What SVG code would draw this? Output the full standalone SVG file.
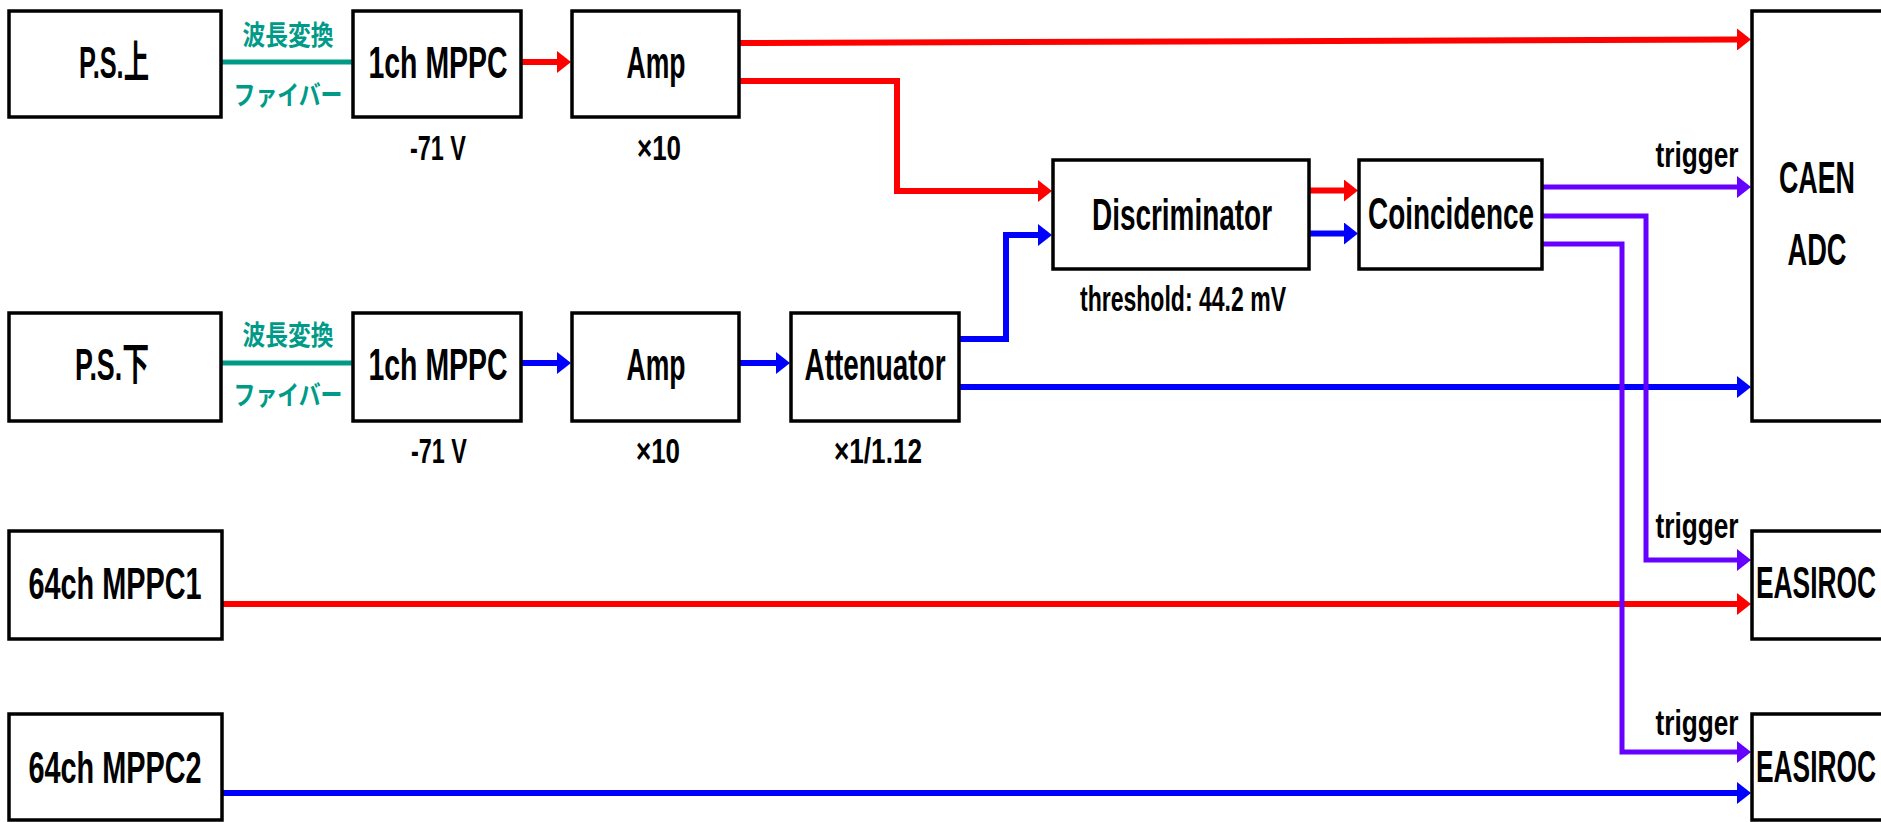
<svg xmlns="http://www.w3.org/2000/svg" width="1881" height="822" viewBox="0 0 1881 822">
<style>
.box{fill:#fff;stroke:#000;stroke-width:3.5}
.lbl{font-family:"Liberation Sans","Noto Sans CJK JP",sans-serif;font-size:44px;font-weight:bold;text-anchor:middle;fill:#000}
.sub{font-family:"Liberation Sans","Noto Sans CJK JP",sans-serif;font-size:35px;font-weight:bold;text-anchor:middle;fill:#000}
.jp{font-family:"Noto Sans CJK JP",sans-serif;font-size:27px;font-weight:bold;text-anchor:middle;fill:#009B88}
.r{fill:none;stroke:#FF0000;stroke-width:6;marker-end:url(#ar)}
.b{fill:none;stroke:#0000FF;stroke-width:6;marker-end:url(#ab)}
.p{fill:none;stroke:#6600FF;stroke-width:5;marker-end:url(#ap)}
.t{fill:none;stroke:#009B88;stroke-width:5}
</style>
<defs>
<marker id="ar" markerUnits="userSpaceOnUse" viewBox="0 0 14 22" refX="0" refY="11" markerWidth="14" markerHeight="22" orient="auto"><path d="M0,0 L14,11 L0,22 z" fill="#FF0000"/></marker>
<marker id="ab" markerUnits="userSpaceOnUse" viewBox="0 0 14 22" refX="0" refY="11" markerWidth="14" markerHeight="22" orient="auto"><path d="M0,0 L14,11 L0,22 z" fill="#0000FF"/></marker>
<marker id="ap" markerUnits="userSpaceOnUse" viewBox="0 0 14 22" refX="0" refY="11" markerWidth="14" markerHeight="22" orient="auto"><path d="M0,0 L14,11 L0,22 z" fill="#6600FF"/></marker>
</defs>
<rect width="1881" height="822" fill="#fff"/>

<g id="connectors">
<line class="t" x1="221" y1="62" x2="353" y2="62"/>
<line class="t" x1="221" y1="363" x2="353" y2="363"/>
<path class="r" d="M739,43 L1737,39.5"/>
<path class="r" d="M521,62 H557"/>
<path class="r" d="M739,81 H897 V191 H1038"/>
<path class="r" d="M1309,190.5 H1344"/>
<path class="r" d="M222,604 H1737"/>
<path class="b" d="M521,363 H557"/>
<path class="b" d="M739,363 H776"/>
<path class="b" d="M959,339 H1006 V235 H1038"/>
<path class="b" d="M1309,233.5 H1344"/>
<path class="b" d="M959,387 H1737"/>
<path class="b" d="M222,793 H1737"/>
<path class="p" d="M1542,187 H1737"/>
<path class="p" d="M1542,216 H1646 V560 H1737"/>
<path class="p" d="M1542,244 H1622 V752 H1737"/>
</g>

<g id="fiber_labels">
<text class="jp" x="288" y="45" textLength="91" lengthAdjust="spacingAndGlyphs">波長変換</text>
<text class="jp" x="288" y="105" textLength="109" lengthAdjust="spacingAndGlyphs">ファイバー</text>
<text class="jp" x="288" y="345" textLength="91" lengthAdjust="spacingAndGlyphs">波長変換</text>
<text class="jp" x="288" y="405" textLength="109" lengthAdjust="spacingAndGlyphs">ファイバー</text>
</g>

<g id="ps_up"><rect class="box" x="9" y="11" width="212" height="106"/><text class="lbl" x="114" y="78" textLength="70" lengthAdjust="spacingAndGlyphs">P.S.上</text></g>
<g id="mppc1ch_up"><rect class="box" x="353" y="11" width="168" height="106"/><text class="lbl" x="438" y="78" textLength="139" lengthAdjust="spacingAndGlyphs">1ch MPPC</text><text class="sub" x="438" y="160" textLength="56" lengthAdjust="spacingAndGlyphs">-71 V</text></g>
<g id="amp_up"><rect class="box" x="572" y="11" width="167" height="106"/><text class="lbl" x="656" y="78" textLength="59" lengthAdjust="spacingAndGlyphs">Amp</text><text class="sub" x="659" y="160" textLength="44" lengthAdjust="spacingAndGlyphs">×10</text></g>

<g id="ps_down"><rect class="box" x="9" y="313" width="212" height="108"/><text class="lbl" x="112" y="380" textLength="74" lengthAdjust="spacingAndGlyphs">P.S.下</text></g>
<g id="mppc1ch_down"><rect class="box" x="353" y="313" width="168" height="108"/><text class="lbl" x="438" y="380" textLength="139" lengthAdjust="spacingAndGlyphs">1ch MPPC</text><text class="sub" x="439" y="463" textLength="56" lengthAdjust="spacingAndGlyphs">-71 V</text></g>
<g id="amp_down"><rect class="box" x="572" y="313" width="167" height="108"/><text class="lbl" x="656" y="380" textLength="59" lengthAdjust="spacingAndGlyphs">Amp</text><text class="sub" x="658" y="463" textLength="44" lengthAdjust="spacingAndGlyphs">×10</text></g>
<g id="attenuator"><rect class="box" x="791" y="313" width="168" height="108"/><text class="lbl" x="875" y="380" textLength="141" lengthAdjust="spacingAndGlyphs">Attenuator</text><text class="sub" x="878" y="463" textLength="88" lengthAdjust="spacingAndGlyphs">×1/1.12</text></g>

<g id="discriminator"><rect class="box" x="1053" y="160" width="256" height="109"/><text class="lbl" x="1182" y="230" textLength="180" lengthAdjust="spacingAndGlyphs">Discriminator</text><text class="sub" x="1183" y="311" textLength="206" lengthAdjust="spacingAndGlyphs">threshold: 44.2 mV</text></g>
<g id="coincidence"><rect class="box" x="1359" y="160" width="183" height="109"/><text class="lbl" x="1451" y="229" textLength="166" lengthAdjust="spacingAndGlyphs">Coincidence</text></g>

<g id="caen_adc"><rect class="box" x="1752" y="11" width="200" height="410"/><text class="lbl" x="1817" y="193" textLength="76" lengthAdjust="spacingAndGlyphs">CAEN</text><text class="lbl" x="1817" y="265" textLength="59" lengthAdjust="spacingAndGlyphs">ADC</text><text class="sub" x="1697" y="167" textLength="83" lengthAdjust="spacingAndGlyphs">trigger</text></g>

<g id="mppc64_1"><rect class="box" x="9" y="531" width="213" height="108"/><text class="lbl" x="115" y="599" textLength="173" lengthAdjust="spacingAndGlyphs">64ch MPPC1</text></g>
<g id="mppc64_2"><rect class="box" x="9" y="714" width="213" height="106"/><text class="lbl" x="115" y="783" textLength="173" lengthAdjust="spacingAndGlyphs">64ch MPPC2</text></g>

<g id="easiroc1"><rect class="box" x="1752" y="531" width="200" height="108"/><text class="lbl" x="1816" y="598" textLength="120" lengthAdjust="spacingAndGlyphs">EASIROC</text><text class="sub" x="1697" y="538" textLength="83" lengthAdjust="spacingAndGlyphs">trigger</text></g>
<g id="easiroc2"><rect class="box" x="1752" y="714" width="200" height="106"/><text class="lbl" x="1816" y="782" textLength="120" lengthAdjust="spacingAndGlyphs">EASIROC</text><text class="sub" x="1697" y="735" textLength="83" lengthAdjust="spacingAndGlyphs">trigger</text></g>
</svg>
